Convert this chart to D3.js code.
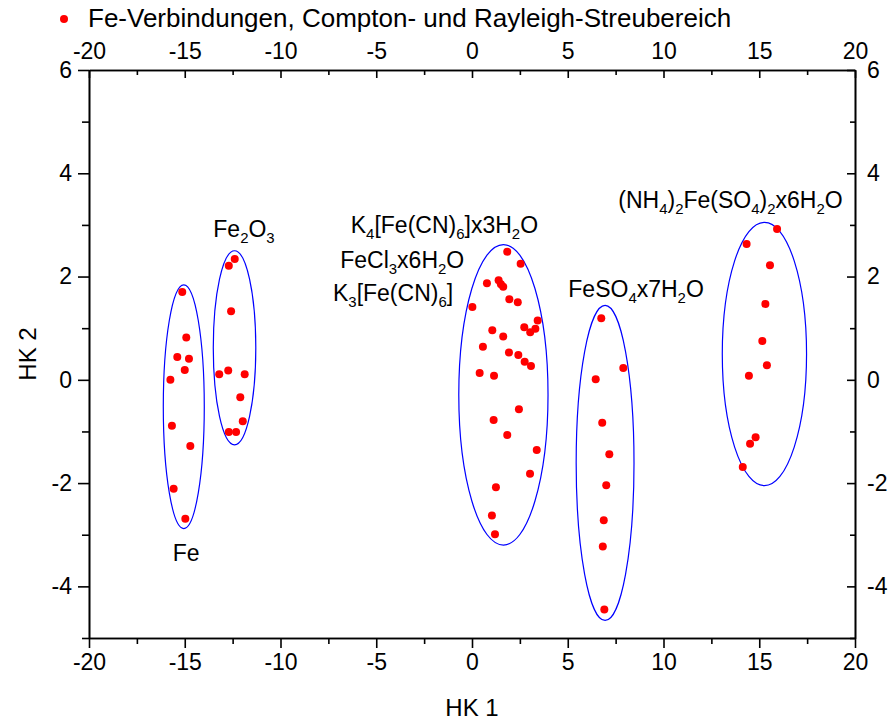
<!DOCTYPE html>
<html>
<head>
<meta charset="utf-8">
<script src="https://cdn.jsdelivr.net/npm/d3@7"></script>
<style>
  body { margin: 0; background: #fff; }
  svg text { font-family: Arial, "Liberation Sans", sans-serif; fill: #000; }
  .axis path, .axis line { stroke: #000; stroke-width: 1.6; }
</style>
</head>
<body>
<script>
// Messpunkte (HK 1, HK 2) je Gruppe
const feX     = [-15.13, -14.92, -15.39, -14.78, -15.00, -15.75, -15.67, -14.71, -15.58, -14.97]
const feY     = [1.70, 0.82, 0.44, 0.41, 0.19, 0.00, -0.89, -1.28, -2.11, -2.69]
const fe2o3X  = [-12.39, -12.70, -12.58, -13.20, -12.73, -11.87, -12.10, -11.97, -12.70, -12.32]
const fe2o3Y  = [2.34, 2.21, 1.33, 0.11, 0.18, 0.11, -0.34, -0.80, -1.01, -1.01]
const cyanoX  = [1.84, 2.54, 0.78, 1.39, 1.51, 1.63, 1.95, 2.39, 0.02, 3.43, 2.73, 3.31, 3.04, 1.06, 1.63,
                 0.57, 1.93, 2.42, 2.75, 3.08, 0.40, 1.15, 2.45, 1.13, 1.84, 3.38, 3.03, 1.25, 1.04, 1.20]
const cyanoY  = [2.48, 2.25, 1.87, 1.93, 1.85, 1.80, 1.56, 1.50, 1.41, 1.15, 1.02, 0.99, 0.92, 0.96, 0.84,
                 0.64, 0.53, 0.48, 0.35, 0.27, 0.13, 0.08, -0.57, -0.78, -1.07, -1.36, -1.82, -2.08, -2.63, -2.99]
const feso4X  = [6.75, 7.90, 6.46, 6.80, 7.17, 7.01, 6.88, 6.83, 6.91]
const feso4Y  = [1.19, 0.23, 0.01, -0.83, -1.44, -2.04, -2.72, -3.23, -4.45]
const mohrX   = [15.93, 14.34, 15.56, 15.32, 15.16, 15.40, 14.46, 14.81, 14.52, 14.14]
const mohrY   = [2.92, 2.63, 2.22, 1.47, 0.75, 0.28, 0.08, -1.11, -1.24, -1.69]

// Ellipsen: Mittelpunkt und Halbachsen in Dateneinheiten
const ellCx = [-15.05, -12.40, 1.64, 6.95, 15.27]
const ellCy = [-0.52, 0.62, -0.29, -1.61, 0.50]
const ellRx = [1.07, 1.11, 2.33, 1.51, 2.20]
const ellRy = [2.36, 1.88, 2.91, 3.05, 2.55]

// Beschriftungen: [Text, Index-Teil] Segmente, Position in Dateneinheiten
const labelText = [
    [['Fe', 0]],
    [['Fe', 0], ['2', 1], ['O', 0], ['3', 1]],
    [['K', 0], ['4', 1], ['[Fe(CN)', 0], ['6', 1], [']x3H', 0], ['2', 1], ['O', 0]],
    [['FeCl', 0], ['3', 1], ['x6H', 0], ['2', 1], ['O', 0]],
    [['K', 0], ['3', 1], ['[Fe(CN)', 0], ['6', 1], [']', 0]],
    [['FeSO', 0], ['4', 1], ['x7H', 0], ['2', 1], ['O', 0]],
    [['(NH', 0], ['4', 1], [')', 0], ['2', 1], ['Fe(SO', 0], ['4', 1], [')', 0], ['2', 1], ['x6H', 0], ['2', 1], ['O', 0]]
]
const labelX = [-15.63, -13.51, -6.33, -6.88, -7.26, 5.03, 7.64]
const labelY = [-3.51, 2.77, 2.84, 2.16, 1.53, 1.61, 3.33]

const xTicks = [-20, -15, -10, -5, 0, 5, 10, 15, 20]
const yTicks = [-4, -2, 0, 2, 4, 6]
const xMinor = [-17.5, -12.5, -7.5, -2.5, 2.5, 7.5, 12.5, 17.5]
const yMinor = [-5, -3, -1, 1, 3, 5]

const legendLabel = 'Fe-Verbindungen, Compton- und Rayleigh-Streubereich'

let w = 892,
    h = 723
const margin = {top: 70, right: 37, bottom: 85, left: 89}

let svg = d3.select('body').append('svg')
    .attr('width', w)
    .attr('height', h)

let x = d3.scaleLinear().domain([-20, 20]).range([margin.left, w - margin.right])
let y = d3.scaleLinear().domain([-5, 6]).range([h - margin.bottom, margin.top])

// Achsen (Bindestrich statt Minuszeichen wie im Original)
const FS = 23
const fmt = d => String(d)
function styleAxis(g) {
    g.attr('class', 'axis')
    g.selectAll('text').style('font-size', FS + 'px')
}

svg.append('g').attr('transform', `translate(0,${y(-5)})`)
    .call(d3.axisBottom(x).tickValues(xTicks).tickSize(10).tickSizeOuter(0).tickPadding(6).tickFormat(fmt))
    .call(styleAxis)
svg.append('g').attr('transform', `translate(0,${y(-5)})`)
    .call(d3.axisBottom(x).tickValues(xMinor).tickSize(6).tickSizeOuter(0).tickFormat(''))
    .call(styleAxis)

svg.append('g').attr('transform', `translate(0,${y(6)})`)
    .call(d3.axisTop(x).tickValues(xTicks).tickSize(-8).tickSizeOuter(0).tickPadding(11).tickFormat(fmt))
    .call(styleAxis)
svg.append('g').attr('transform', `translate(0,${y(6)})`)
    .call(d3.axisTop(x).tickValues(xMinor).tickSize(-5).tickSizeOuter(0).tickFormat(''))
    .call(styleAxis)

svg.append('g').attr('transform', `translate(${x(-20)},0)`)
    .call(d3.axisLeft(y).tickValues(yTicks).tickSize(11).tickSizeOuter(0).tickPadding(6).tickFormat(fmt))
    .call(styleAxis)
svg.append('g').attr('transform', `translate(${x(-20)},0)`)
    .call(d3.axisLeft(y).tickValues(yMinor).tickSize(7).tickSizeOuter(0).tickFormat(''))
    .call(styleAxis)

svg.append('g').attr('transform', `translate(${x(20)},0)`)
    .call(d3.axisRight(y).tickValues(yTicks).tickSize(-8).tickSizeOuter(0).tickPadding(12).tickFormat(fmt))
    .call(styleAxis)
svg.append('g').attr('transform', `translate(${x(20)},0)`)
    .call(d3.axisRight(y).tickValues(yMinor).tickSize(-5).tickSizeOuter(0).tickFormat(''))
    .call(styleAxis)

// Achsentitel
svg.append('text')
    .attr('x', x(0))
    .attr('y', 716)
    .attr('text-anchor', 'middle')
    .style('font-size', '24px')
    .text('HK 1')
svg.append('text')
    .attr('transform', `translate(36,${y(0.5)})rotate(-90)`)
    .attr('text-anchor', 'middle')
    .style('font-size', '24px')
    .text('HK 2')

// Ellipsen
let ells = ellCx.map((cx, i) => ({cx, cy: ellCy[i], rx: ellRx[i], ry: ellRy[i]}))
svg.append('g').selectAll('ellipse')
    .data(ells)
    .enter()
    .append('ellipse')
    .attr('cx', d => x(d.cx))
    .attr('cy', d => y(d.cy))
    .attr('rx', d => x(d.rx) - x(0))
    .attr('ry', d => y(0) - y(d.ry))
    .attr('fill', 'none')
    .attr('stroke', '#0000ff')
    .attr('stroke-width', 1.2)

// Punkte
let groups = [[feX, feY], [fe2o3X, fe2o3Y], [cyanoX, cyanoY], [feso4X, feso4Y], [mohrX, mohrY]]
let points = []
groups.forEach(g => g[0].forEach((v, i) => points.push({x: v, y: g[1][i]})))

svg.append('g').selectAll('circle')
    .data(points)
    .enter()
    .append('circle')
    .attr('cx', d => x(d.x))
    .attr('cy', d => y(d.y))
    .attr('r', 4)
    .attr('fill', '#ff0000')

// Beschriftungen mit Indizes
const LABEL_FS = 23
labelText.forEach((segs, i) => {
    let t = svg.append('text')
        .attr('x', x(labelX[i]))
        .attr('y', y(labelY[i]))
        .style('font-size', LABEL_FS + 'px')
    segs.forEach(s => {
        let ts = t.append('tspan').text(s[0])
        if (s[1]) ts.style('font-size', (LABEL_FS * 0.65) + 'px').attr('dy', 6)
        else if (t.selectAll('tspan').size() > 1) ts.attr('dy', -6)
    })
})

// Legende
svg.append('circle')
    .attr('cx', 64)
    .attr('cy', 19)
    .attr('r', 4)
    .attr('fill', '#ff0000')
svg.append('text')
    .attr('x', 88)
    .attr('y', 27)
    .style('font-size', '26px')
    .text(legendLabel)
</script>
</body>
</html>
